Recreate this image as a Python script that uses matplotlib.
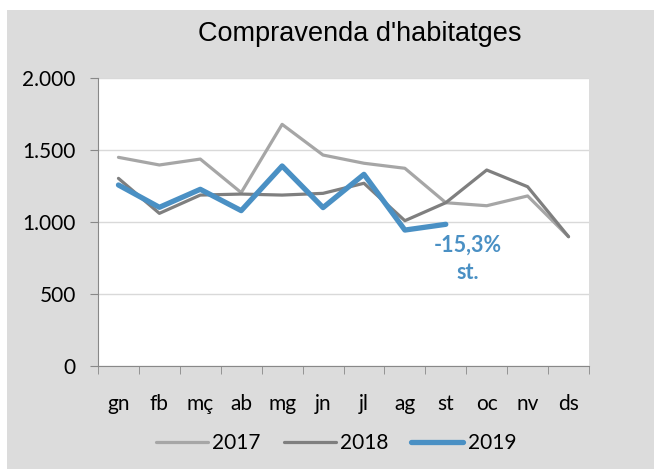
import numpy as np
import matplotlib.pyplot as plt
from matplotlib.patches import Rectangle
from matplotlib.ticker import FuncFormatter

mesos = ['gn', 'fb', 'mç', 'ab', 'mg', 'jn', 'jl', 'ag', 'st', 'oc', 'nv', 'ds']
v2017 = [1449, 1396, 1437, 1204, 1678, 1465, 1408, 1373, 1134, 1113, 1181, 898]
v2018 = [1303, 1060, 1187, 1194, 1187, 1199, 1269, 1009, 1134, 1361, 1245, 898]
v2019 = [1257, 1102, 1227, 1079, 1389, 1100, 1331, 944, 984]
nota = '-15,3%\nst.'

plt.rcParams['font.family'] = ['Lato', 'DejaVu Sans']

fig = plt.figure(figsize=(6.54, 4.69), dpi=100, facecolor='white')
fig.patches.append(Rectangle((7/654, 0), 1, 459/469, transform=fig.transFigure,
                             facecolor='#dcdcdc', edgecolor='none', zorder=-10))
ax = fig.add_axes([98/654, 1-366/469, 491/654, 288/469])
ax.set_facecolor('white')

x = np.arange(len(mesos))
ax.plot(x, v2017, color='#a6a6a6', lw=2.3, label='2017', solid_capstyle='round', zorder=3)
ax.plot(x, v2018, color='#7f7f7f', lw=2.3, label='2018', solid_capstyle='round', zorder=4)
ax.plot(x[:len(v2019)], v2019, color='#4a90c4', lw=3.8, label='2019', solid_capstyle='round', zorder=5)

ax.text(8.53, 743, nota, color='#4a90c4', fontsize=15.5, fontweight='bold',
        ha='center', va='center', linespacing=1.35)

ax.set_xlim(-0.5, 11.5)
ax.set_ylim(0, 2000)
ax.set_yticks([0, 500, 1000, 1500, 2000])
ax.yaxis.set_major_formatter(FuncFormatter(lambda v, p: f'{int(v):,}'.replace(',', '.')))
ax.set_xticks(x)
ax.set_xticklabels(mesos)
ax.set_xticks(np.arange(-0.5, 12, 1), minor=True)
ax.tick_params(axis='x', which='major', length=0, pad=20, labelsize=15)
ax.tick_params(axis='x', which='minor', length=6, color='#888888', direction='out')
ax.tick_params(axis='y', length=6, color='#888888', labelsize=15, pad=10)
ax.grid(axis='y', color='#d9d9d9', lw=1)
for s in ['top', 'right']:
    ax.spines[s].set_visible(False)
for s in ['left', 'bottom']:
    ax.spines[s].set_color('#888888')

fig.text(360/654, 1-34/469, "Compravenda d'habitatges", fontsize=19.5,
         ha='center', va='center', family=['Liberation Sans', 'DejaVu Sans'])

leg = ax.legend(loc='center', bbox_to_anchor=(0.485, -0.267), ncol=3, frameon=False,
                fontsize=15, handlelength=2.5, columnspacing=1.1, handletextpad=0.2)

fig.savefig('out.png', dpi=100, facecolor=fig.get_facecolor())
